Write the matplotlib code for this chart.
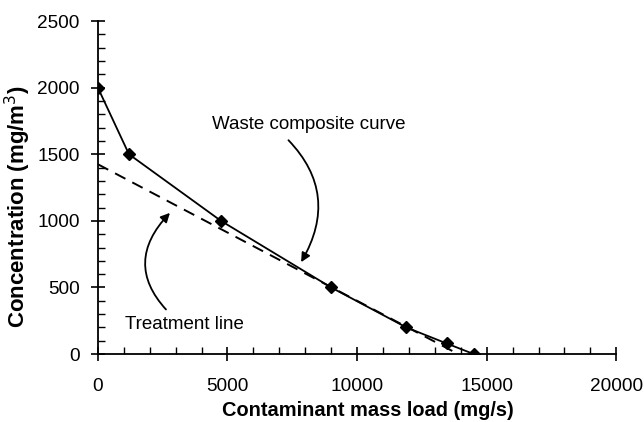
import numpy as np
import matplotlib.pyplot as plt
from matplotlib.ticker import MultipleLocator

plt.rcParams['font.family'] = ['Liberation Sans', 'DejaVu Sans']

# ---------- Data ----------
load = [0, 1200, 4750, 9000, 11900, 13450, 14500]        # mg/s
conc = [2000, 1500, 1000, 500, 200, 80, 0]               # mg/m3
treat_load = [0, 13900]
treat_conc = [1425, 0]

# ---------- Plot ----------
fig = plt.figure(figsize=(6.44, 4.22), dpi=100)
ax = fig.add_axes([0.152, 0.161, 0.805, 0.789])

ax.plot(treat_load, treat_conc, color="black", lw=1.4, ls=(0, (6, 4)))
ax.plot(load, conc, color="black", lw=1.3, marker="D", ms=6.5)

ax.set_xlim(0, 20000)
ax.set_ylim(0, 2500)
ax.xaxis.set_major_locator(MultipleLocator(5000))
ax.xaxis.set_minor_locator(MultipleLocator(1000))
ax.yaxis.set_major_locator(MultipleLocator(500))
ax.yaxis.set_minor_locator(MultipleLocator(100))
ax.tick_params(which="major", direction="inout", length=10, width=1.2, labelsize=13.7)
ax.tick_params(which="minor", direction="in", length=5, width=1.0)
ax.tick_params(axis="x", which="major", pad=12)
ax.tick_params(axis="y", which="major", pad=8)
for s in ["top", "right"]:
    ax.spines[s].set_visible(False)
for s in ["left", "bottom"]:
    ax.spines[s].set_linewidth(1.3)

ax.set_xlabel("Contaminant mass load (mg/s)", fontsize=14.4, fontweight="bold")
ax.set_ylabel("Concentration (mg/m$^3$)", fontsize=16, fontweight="bold")
ax.xaxis.set_label_coords(0.521, -0.142)
ax.yaxis.set_label_coords(-0.125, 0.444)

# annotations
ax.annotate("Waste composite curve", xy=(7840, 690), xytext=(4400, 1720),
            fontsize=13.5, va="center", ha="left",
            arrowprops=dict(arrowstyle="-|>", color="black", lw=1.3,
                            shrinkA=4, shrinkB=0,
                            connectionstyle="arc3,rad=-0.4",
                            relpos=(0.36, 0.0)))
ax.annotate("Treatment line", xy=(2780, 1060), xytext=(1050, 220),
            fontsize=13.5, va="center", ha="left",
            arrowprops=dict(arrowstyle="-|>", color="black", lw=1.3,
                            shrinkA=4, shrinkB=0,
                            connectionstyle="arc3,rad=-0.5",
                            relpos=(0.4, 1.0)))

plt.savefig("out.png", dpi=100)
